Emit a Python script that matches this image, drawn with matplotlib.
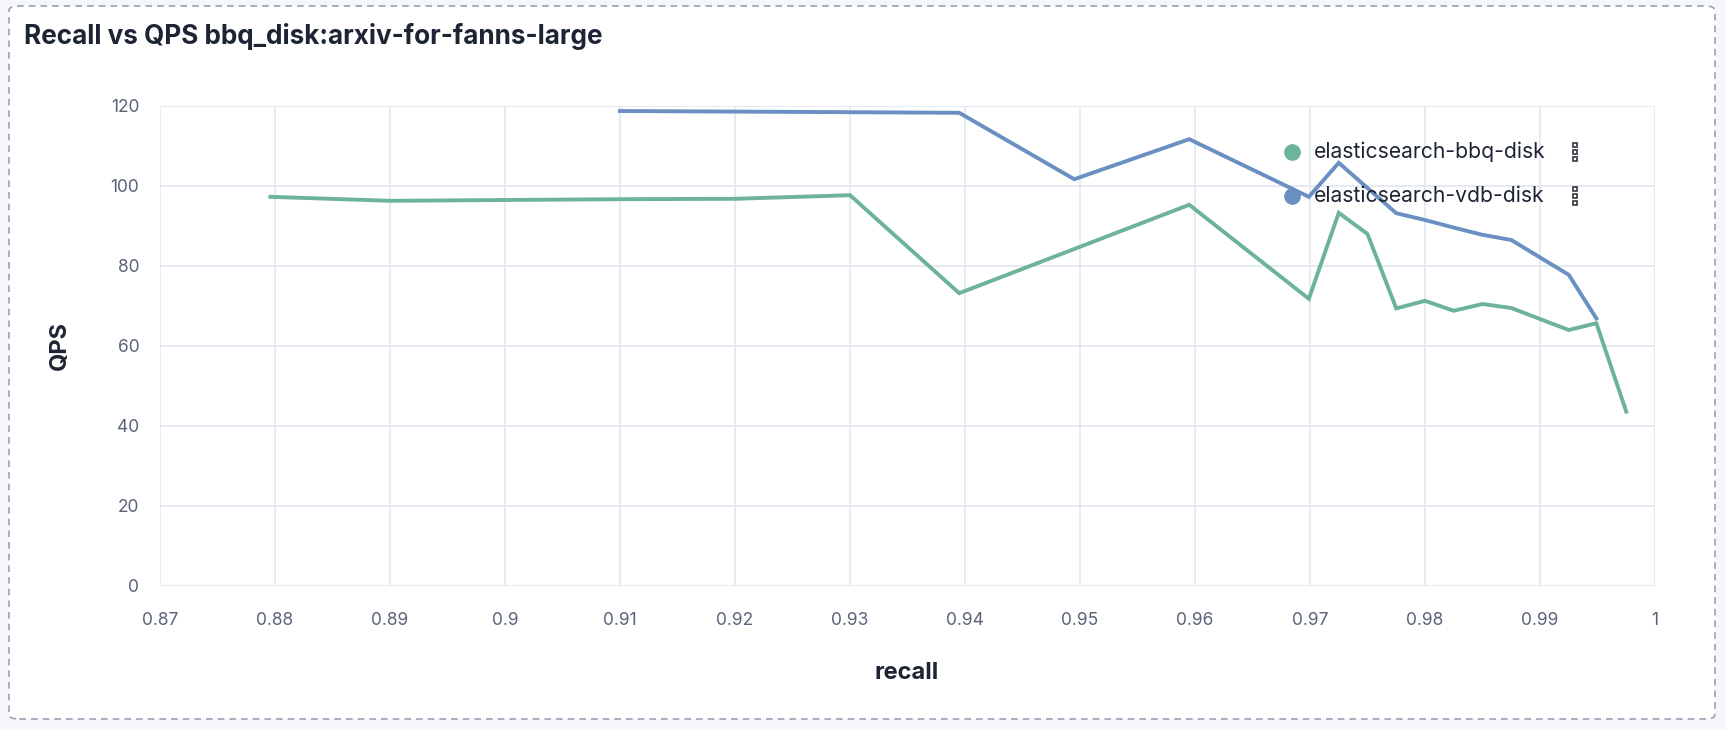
import numpy as np
import matplotlib
matplotlib.use("Agg")
import matplotlib.pyplot as plt
from matplotlib.patches import FancyBboxPatch
from matplotlib.lines import Line2D

plt.rcParams['font.family'] = ['Inter', 'DejaVu Sans']

# data
bbq_recall = [0.8796, 0.89, 0.90, 0.91, 0.92, 0.93, 0.9395, 0.9595, 0.9699, 0.9725,
              0.975, 0.9775, 0.98, 0.9825, 0.985, 0.9875, 0.9925, 0.9949, 0.9975]
bbq_qps = [97.3, 96.3, 96.5, 96.7, 96.8, 97.7, 73.2, 95.3, 71.8, 93.3,
           88.0, 69.4, 71.3, 68.8, 70.5, 69.5, 64.0, 65.7, 43.6]

vdb_recall = [0.91, 0.92, 0.93, 0.9395, 0.9495, 0.9595, 0.9699, 0.9725, 0.9775,
              0.98, 0.9825, 0.985, 0.9875, 0.9925, 0.9949]
vdb_qps = [118.75, 118.6, 118.45, 118.3, 101.7, 111.7, 97.3, 105.8, 93.2,
           91.5, 89.6, 87.8, 86.5, 77.8, 66.9]

series_names = ['elasticsearch-bbq-disk', 'elasticsearch-vdb-disk']
series_colors = ['#6db39a', '#6a90c2']

x_ticks = [0.87, 0.88, 0.89, 0.90, 0.91, 0.92, 0.93, 0.94, 0.95, 0.96, 0.97, 0.98, 0.99, 1.0]
x_labels = ['0.87', '0.88', '0.89', '0.9', '0.91', '0.92', '0.93', '0.94', '0.95',
            '0.96', '0.97', '0.98', '0.99', '1']
y_ticks = [0, 20, 40, 60, 80, 100, 120]

W, H = 1726, 730
fig = plt.figure(figsize=(W / 100, H / 100), dpi=100, facecolor='#f6f7fb')

# white panel with dashed border, kept behind the axes
panel = FancyBboxPatch((9 / W, 11 / H), (1715 - 9) / W, (724 - 11) / H,
                       boxstyle='round,pad=0,rounding_size=0.006',
                       transform=fig.transFigure, facecolor='white',
                       edgecolor='#98a2b3', linestyle=(0, (4, 3)), linewidth=1.2,
                       zorder=-10)
fig.add_artist(panel)

ax = fig.add_axes([160 / W, 1 - 586 / H, (1655 - 160) / W, (586 - 106) / H])
ax.set_facecolor('none')

ax.plot(bbq_recall, bbq_qps, color=series_colors[0], lw=2.8, solid_joinstyle='miter')
ax.plot(vdb_recall, vdb_qps, color=series_colors[1], lw=2.8, solid_joinstyle='miter')

ax.set_xlim(0.87, 1.0)
ax.set_ylim(0, 120)
ax.set_xticks(x_ticks)
ax.set_xticklabels(x_labels)
ax.set_yticks(y_ticks)
ax.grid(True, color='#e3e8f2', lw=1.3)
ax.set_axisbelow(True)
for s in ax.spines.values():
    s.set_visible(False)
ax.tick_params(length=0, labelsize=12.5, colors='#5a6377')
ax.tick_params(axis='x', pad=19)
ax.tick_params(axis='y', pad=15)

fig.text(907 / W, 1 - 673 / H, 'recall', ha='center', va='center',
         fontsize=17, fontweight='bold', color='#1d2433')
fig.text(60 / W, 1 - 346 / H, 'QPS', ha='center', va='center', rotation=90,
         fontsize=17, fontweight='bold', color='#1d2433')
fig.text(24 / W, 1 - 36 / H, 'Recall vs QPS bbq_disk:arxiv-for-fanns-large',
         ha='left', va='center', fontsize=18.8, fontweight='bold', color='#1d2433')

# legend, drawn by hand
leg_y = [152, 196]
for name, col, y in zip(series_names, series_colors, leg_y):
    fig.add_artist(Line2D([1292 / W], [1 - y / H], marker='o', markersize=11,
                          color=col, transform=fig.transFigure, lw=0))
    fig.text(1314 / W, 1 - y / H, name, ha='left', va='center',
             fontsize=15.2, color='#1d2433')
    # small three-square menu icon
    fig.add_artist(Line2D([1575 / W] * 3, [1 - (y - 7) / H, 1 - y / H, 1 - (y + 7) / H],
                          marker='s', markersize=3.5, markerfacecolor='white',
                          markeredgecolor='#343741', markeredgewidth=1.2,
                          lw=0, transform=fig.transFigure))

fig.savefig('out.png', dpi=100, facecolor=fig.get_facecolor())
